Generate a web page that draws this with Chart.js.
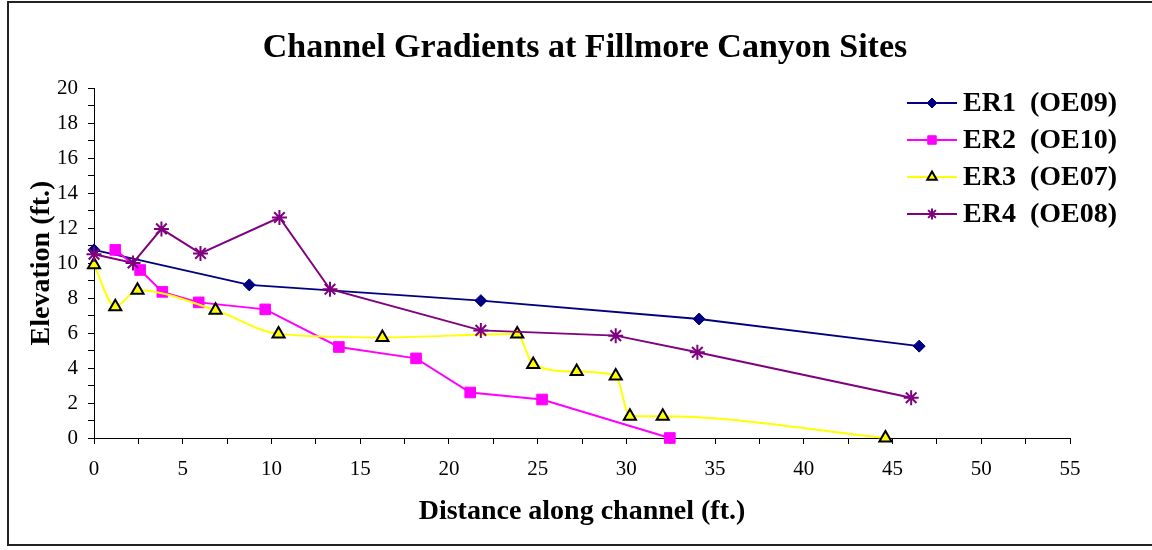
<!DOCTYPE html>
<html>
<head>
<meta charset="utf-8">
<script src="https://cdn.jsdelivr.net/npm/chart.js@4"></script>
<style>
  html, body { margin: 0; padding: 0; background: #fff; }
  #wrap { width: 1152px; height: 550px; }
</style>
</head>
<body>
<div id="wrap"><canvas id="c" width="1152" height="550"></canvas></div>
<script>
// Survey profiles: distance along channel (ft.) and elevation (ft.)
const seriesNames = ['ER1  (OE09)', 'ER2  (OE10)', 'ER3  (OE07)', 'ER4  (OE08)'];

const er1X = [0, 8.75, 21.8, 34.1, 46.5];
const er1Y = [10.75, 8.75, 7.85, 6.8, 5.25];

const er2X = [1.2, 2.6, 3.85, 5.9, 9.65, 13.8, 18.15, 21.2, 25.25, 32.45];
const er2Y = [10.75, 9.6, 8.35, 7.75, 7.35, 5.2, 4.55, 2.6, 2.2, 0];

const er3X = [0, 1.2, 2.45, 6.85, 10.4, 16.25, 23.85, 24.75, 27.2, 29.4, 30.2, 32.05, 44.6];
const er3Y = [9.9, 7.5, 8.45, 7.3, 5.95, 5.75, 5.95, 4.2, 3.8, 3.55, 1.25, 1.25, 0];

const er4X = [0, 2.2, 3.8, 6.0, 10.45, 13.3, 21.8, 29.4, 34.0, 46.05];
const er4Y = [10.5, 10.0, 11.95, 10.55, 12.6, 8.5, 6.15, 5.85, 4.9, 2.3];

const titleText = 'Channel Gradients at Fillmore Canyon Sites';
const xTitle = 'Distance along channel (ft.)';
const yTitle = 'Elevation (ft.)';

const SERIF = '"Liberation Serif", "Times New Roman", serif';

function pts(xs, ys) {
  return xs.map((x, i) => ({ x: x, y: ys[i] }));
}

// White page, outer frame and the chart heading
const framePlugin = {
  id: 'frame',
  beforeDraw(chart) {
    const ctx = chart.ctx;
    ctx.save();
    ctx.fillStyle = '#fff';
    ctx.fillRect(0, 0, chart.width, chart.height);
    ctx.strokeStyle = '#222';
    ctx.lineWidth = 2;
    ctx.strokeRect(8, 2, 1170, 543);
    ctx.fillStyle = '#000';
    ctx.font = 'bold 34px ' + SERIF;
    ctx.textAlign = 'center';
    ctx.textBaseline = 'middle';
    ctx.fillText(titleText, 585, 48);
    ctx.restore();
  }
};

// Legend drawn inside the plot, each entry as a line sample with its marker
const legendPlugin = {
  id: 'sideLegend',
  afterDraw(chart) {
    const ctx = chart.ctx;
    const rowY = [103, 140, 177, 214];
    const markerR = [5, 6, 5.5, 5.5];
    chart.data.datasets.forEach((ds, i) => {
      const y = rowY[i];
      ctx.save();
      ctx.strokeStyle = ds.borderColor;
      ctx.lineWidth = 2;
      ctx.beginPath();
      ctx.moveTo(907, y);
      ctx.lineTo(957, y);
      ctx.stroke();
      ctx.fillStyle = ds.pointBackgroundColor;
      ctx.strokeStyle = ds.pointBorderColor;
      ctx.lineWidth = ds.pointBorderWidth;
      Chart.helpers.drawPoint(ctx, {
        pointStyle: ds.pointStyle,
        rotation: 0,
        radius: markerR[i],
        borderWidth: ds.pointBorderWidth
      }, 932, y);
      ctx.fillStyle = '#000';
      ctx.font = 'bold 28px ' + SERIF;
      ctx.textAlign = 'left';
      ctx.textBaseline = 'middle';
      ctx.fillText(ds.label, 963, y + 1);
      ctx.restore();
    });
  }
};

new Chart(document.getElementById('c'), {
  type: 'scatter',
  data: {
    datasets: [
      {
        label: seriesNames[0],
        data: pts(er1X, er1Y),
        showLine: true,
        borderColor: '#000080',
        backgroundColor: '#000080',
        borderWidth: 2,
        pointStyle: 'rectRot',
        pointRadius: 6,
        pointBackgroundColor: '#000080',
        pointBorderColor: '#000080',
        pointBorderWidth: 1,
        clip: false,
        order: 3
      },
      {
        label: seriesNames[1],
        data: pts(er2X, er2Y),
        showLine: true,
        borderColor: '#FF00FF',
        backgroundColor: '#FF00FF',
        borderWidth: 2,
        pointStyle: 'rect',
        pointRadius: 7.5,
        pointBackgroundColor: '#FF00FF',
        pointBorderColor: '#FF00FF',
        pointBorderWidth: 1,
        clip: false,
        order: 2
      },
      {
        label: seriesNames[2],
        data: pts(er3X, er3Y),
        showLine: true,
        cubicInterpolationMode: 'monotone',
        borderColor: '#FFFF00',
        backgroundColor: '#FFFF00',
        borderWidth: 2,
        pointStyle: 'triangle',
        pointRadius: 7,
        pointBackgroundColor: '#FFFF00',
        pointBorderColor: '#000000',
        pointBorderWidth: 2,
        clip: false,
        order: 1
      },
      {
        label: seriesNames[3],
        data: pts(er4X, er4Y),
        showLine: true,
        borderColor: '#800080',
        backgroundColor: '#800080',
        borderWidth: 2,
        pointStyle: 'star',
        pointRadius: 7.5,
        pointBackgroundColor: '#800080',
        pointBorderColor: '#800080',
        pointBorderWidth: 2,
        clip: false,
        order: 0
      }
    ]
  },
  options: {
    responsive: false,
    animation: false,
    events: [],
    layout: { padding: { left: 8, right: 82, top: 88, bottom: 0 } },
    plugins: {
      legend: { display: false },
      title: { display: false },
      tooltip: { enabled: false }
    },
    scales: {
      x: {
        type: 'linear',
        min: 0,
        max: 55,
        afterFit(scale) { scale.height = 112; },
        ticks: {
          stepSize: 2.5,
          autoSkip: false,
          maxRotation: 0,
          padding: 13,
          color: '#000',
          font: { family: SERIF, size: 21 },
          callback: (v) => (v % 5 === 0 ? String(v) : '')
        },
        grid: { drawOnChartArea: false, drawTicks: true, tickLength: 6, color: '#000', lineWidth: 1 },
        border: { display: true, color: '#000', width: 1 },
        title: {
          display: true,
          text: xTitle,
          color: '#000',
          font: { family: SERIF, size: 28, weight: 'bold' },
          padding: { top: 0, bottom: 21 }
        }
      },
      y: {
        type: 'linear',
        min: 0,
        max: 20,
        afterFit(scale) { scale.width = 86; },
        ticks: {
          stepSize: 1,
          autoSkip: false,
          padding: 10,
          color: '#000',
          font: { family: SERIF, size: 21 },
          callback: (v) => (v % 2 === 0 ? String(v) : '')
        },
        grid: { drawOnChartArea: false, drawTicks: true, tickLength: 6, color: '#000', lineWidth: 1 },
        border: { display: true, color: '#000', width: 1 },
        title: {
          display: true,
          text: yTitle,
          color: '#000',
          font: { family: SERIF, size: 28, weight: 'bold' },
          padding: { top: 17, bottom: 0 }
        }
      }
    }
  },
  plugins: [framePlugin, legendPlugin]
});
</script>
</body>
</html>
